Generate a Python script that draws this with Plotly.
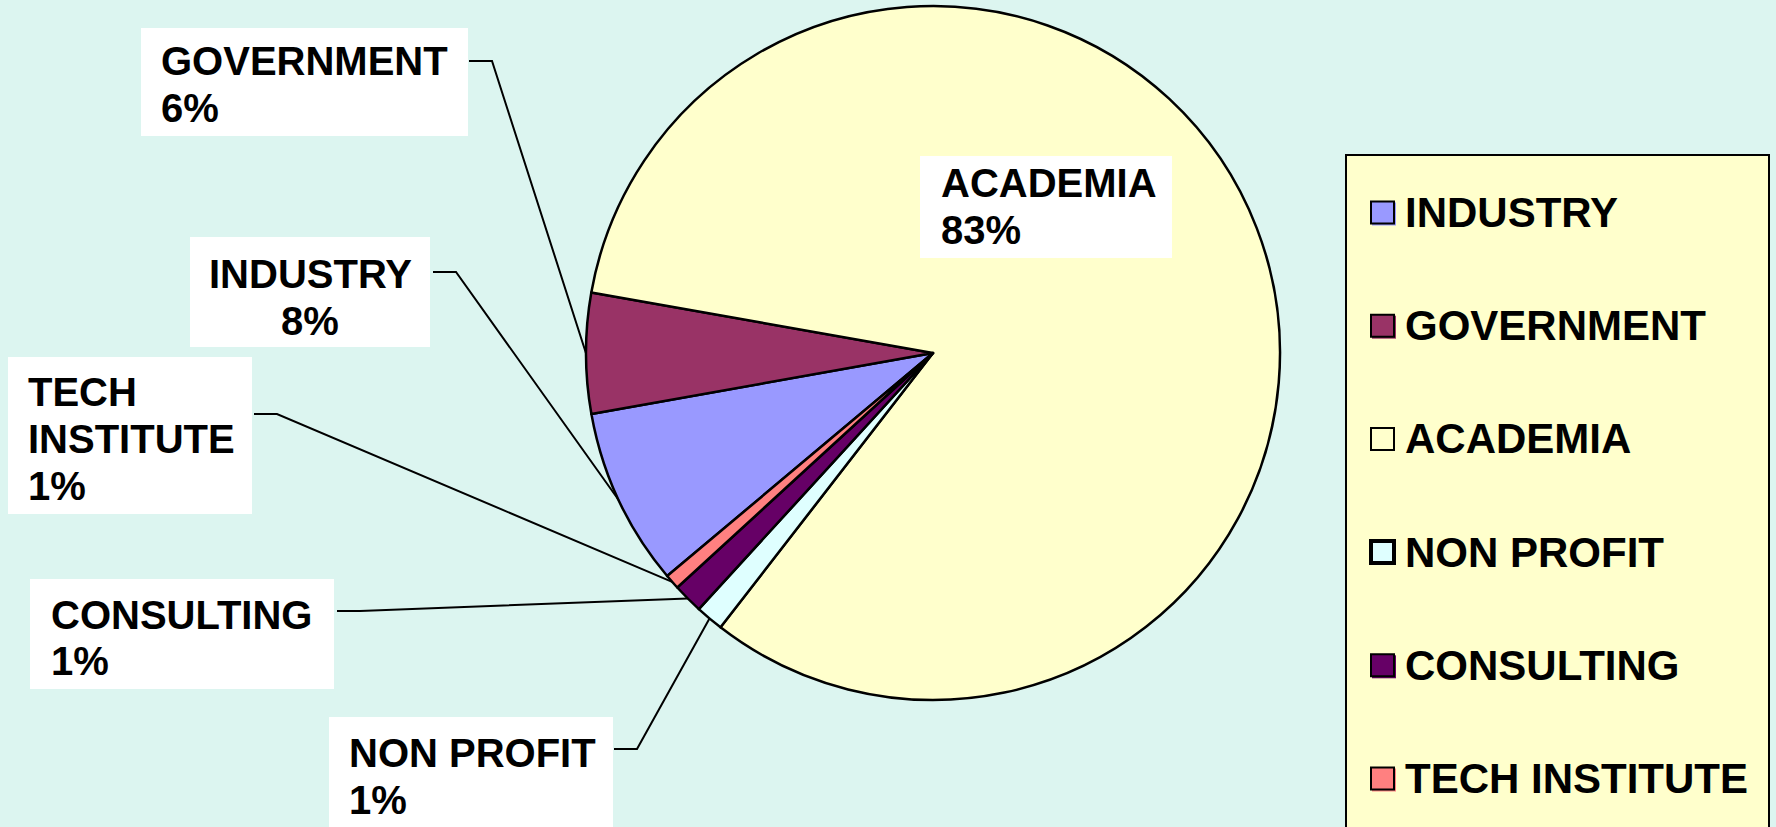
import plotly.graph_objects as go
import math

# ---------------- data ----------------
categories = ["INDUSTRY", "GOVERNMENT", "ACADEMIA", "NON PROFIT", "CONSULTING", "TECH INSTITUTE"]
values = [8.3, 5.6, 82.7, 1.3, 1.4, 0.7]
colors = ["#9999FF", "#993366", "#FFFFCC", "#DFFFFF", "#660066", "#FF8080"]

# ---------------- layout constants (pixels) ----------------
W, H = 1776, 827
BG = "#DCF5F0"
CX, CY, R = 933, 353, 347
ROTATION = 230
FONT = "Liberation Sans"


def fx(px):
    return px / W


def fy(py):
    return 1 - py / H


# label box layout per category: box, text anchor, line centres, leader start/elbow
label_layout = {
    "INDUSTRY": dict(box=(190, 237, 430, 347), tx=310, align="center", ys=[273.5, 320.5],
                     lead=((433, 272), (456, 272)), wrap=False),
    "GOVERNMENT": dict(box=(141, 28, 468, 136), tx=159, align="left", ys=[61.5, 107.5],
                       lead=((469, 61), (492, 61)), wrap=False),
    "ACADEMIA": dict(box=(920, 156, 1172, 258), tx=939, align="left", ys=[182.5, 230],
                     lead=None, wrap=False),
    "NON PROFIT": dict(box=(329, 717, 613, 835), tx=347, align="left", ys=[753, 800],
                       lead=((614, 749), (637, 749)), wrap=False),
    "CONSULTING": dict(box=(30, 579, 334, 689), tx=49, align="left", ys=[615, 661],
                       lead=((337, 611), (360, 611)), wrap=False),
    "TECH INSTITUTE": dict(box=(8, 357, 252, 514), tx=26, align="left", ys=[392, 439, 486],
                           lead=((254, 414), (277, 414)), wrap=True),
}

total = sum(values)
pcts = [round(v / total * 100) for v in values]

fig = go.Figure()
fig.add_trace(go.Pie(
    labels=categories,
    values=values,
    sort=False,
    direction="clockwise",
    rotation=ROTATION,
    marker=dict(colors=colors, line=dict(color="black", width=2.5)),
    textinfo="none",
    hoverinfo="label+percent",
    showlegend=False,
    domain=dict(x=[fx(CX - R), fx(CX + R)], y=[fy(CY + R), fy(CY - R)]),
))

shapes = []
annotations = []

# slice label boxes, texts and leader lines
cum = 0.0
for name, v, p in zip(categories, values, pcts):
    mid = math.radians(ROTATION + 360 * (cum + v / 2) / total)
    cum += v
    spec = label_layout[name]
    x0, y0, x1, y1 = spec["box"]
    shapes.append(dict(type="rect", xref="paper", yref="paper",
                       x0=fx(x0), x1=fx(x1), y0=fy(y1), y1=fy(y0),
                       fillcolor="white", line=dict(width=0), layer="above"))
    lines = (name.split(" ") if spec["wrap"] else [name]) + [f"{p}%"]
    for txt, yy in zip(lines, spec["ys"]):
        annotations.append(dict(
            xref="paper", yref="paper", x=fx(spec["tx"]), y=fy(yy),
            xanchor=spec["align"], yanchor="middle", text=txt, showarrow=False,
            font=dict(family=FONT, size=40, color="black", weight="bold")))
    if spec["lead"]:
        (sx, sy), (ex, ey) = spec["lead"]
        px = CX + R * math.sin(mid)
        py = CY - R * math.cos(mid)
        path = f"M {fx(sx)} {fy(sy)} L {fx(ex)} {fy(ey)} L {fx(px)} {fy(py)}"
        shapes.append(dict(type="path", xref="paper", yref="paper", path=path,
                           line=dict(color="black", width=2), layer="above"))

# legend (manual, to match the reference spacing)
LEG_BOX = (1346, 155, 1769, 845)
shapes.append(dict(type="rect", xref="paper", yref="paper",
                   x0=fx(LEG_BOX[0]), x1=fx(LEG_BOX[2]), y0=fy(LEG_BOX[3]), y1=fy(LEG_BOX[1]),
                   fillcolor="#FFFFCC", line=dict(color="black", width=2), layer="above"))
for i, (name, col) in enumerate(zip(categories, colors)):
    yc = 212.5 + i * 113.2
    sx0, sx1 = 1371, 1394
    # coloured offset shadow
    shapes.append(dict(type="rect", xref="paper", yref="paper",
                       x0=fx(sx0 + 1), x1=fx(sx1 + 2), y0=fy(yc + 13), y1=fy(yc - 10),
                       fillcolor=col, line=dict(width=0), layer="above"))
    lw = 4 if name == "NON PROFIT" else 2
    shapes.append(dict(type="rect", xref="paper", yref="paper",
                       x0=fx(sx0), x1=fx(sx1), y0=fy(yc + 11), y1=fy(yc - 11),
                       fillcolor=col, line=dict(color="black", width=lw), layer="above"))
    annotations.append(dict(
        xref="paper", yref="paper", x=fx(1403), y=fy(yc), xanchor="left", yanchor="middle",
        text=name, showarrow=False,
        font=dict(family=FONT, size=42, color="black", weight="bold")))

fig.update_layout(
    width=W, height=H,
    margin=dict(l=0, r=0, t=0, b=0),
    paper_bgcolor=BG, plot_bgcolor=BG,
    shapes=shapes, annotations=annotations,
    showlegend=False,
)

fig.write_html(
    "out.html",
    config={"displayModeBar": False},
    post_script="document.body.style.margin='0';document.body.style.overflow='hidden';",
)
